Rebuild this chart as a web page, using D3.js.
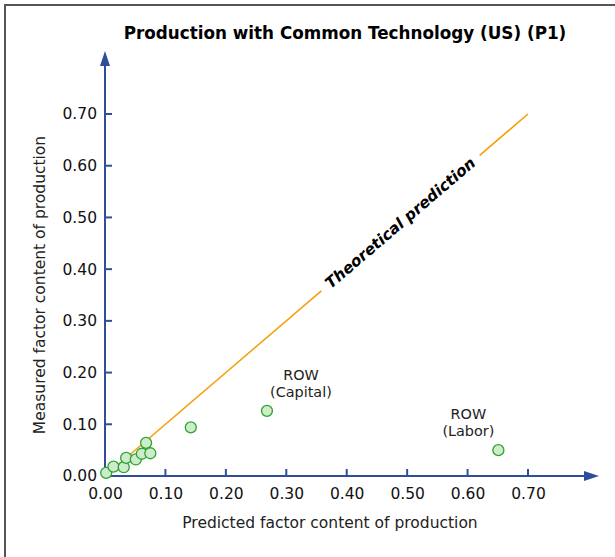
<!DOCTYPE html>
<html><head><meta charset="utf-8">
<script src="https://cdn.jsdelivr.net/npm/d3@7"></script>
<style>body{margin:0;background:#fff;} svg{display:block;}</style>
</head><body>
<script>
const title = "Production with Common Technology (US) (P1)";
const xLabel = "Predicted factor content of production";
const yLabel = "Measured factor content of production";
const tickValues = [0, 0.1, 0.2, 0.3, 0.4, 0.5, 0.6, 0.7];
const predicted = [0.002, 0.014, 0.031, 0.035, 0.051, 0.061, 0.068, 0.075, 0.142, 0.268, 0.651];
const measured  = [0.006, 0.018, 0.017, 0.035, 0.032, 0.043, 0.064, 0.044, 0.094, 0.126, 0.050];
const pointLabels = ["", "", "", "", "", "", "", "", "", "ROW\n(Capital)", "ROW\n(Labor)"];
const lineX = [0, 0.7];
const lineLabel = "Theoretical prediction";

const W = 615, H = 557;
const svg = d3.select("body").append("svg").attr("width", W).attr("height", H);
const font = "Verdana, 'DejaVu Sans', sans-serif";
const axisColor = "#2d4f9a";

svg.append("path").attr("d", `M5,${H} L5,5 L${W},5`).attr("fill","none").attr("stroke","#555").attr("stroke-width",2);

const x = d3.scaleLinear().domain([0, 0.7]).range([105, 528]);
const y = d3.scaleLinear().domain([0, 0.7]).range([476, 114]);

svg.append("text").attr("x", 345).attr("y", 39).attr("text-anchor","middle")
  .attr("font-family", font).attr("font-weight","bold").attr("font-size", 16.8).text(title);

// theoretical line with gap for label
const x1 = x(lineX[0]), y1 = y(lineX[0]), x2 = x(lineX[1]), y2 = y(lineX[1]);
const gapA = 0.358, gapB = 0.620;
const g = svg.append("g");
g.append("line").attr("x1", x1).attr("y1", y1).attr("x2", x(gapA)).attr("y2", y(gapA))
  .attr("stroke","#f5a00a").attr("stroke-width",1.6);
g.append("line").attr("x1", x(gapB)).attr("y1", y(gapB)).attr("x2", x2).attr("y2", y2)
  .attr("stroke","#f5a00a").attr("stroke-width",1.6);
const ang = Math.atan2(y2 - y1, x2 - x1) * 180 / Math.PI;
const mid = (gapA + gapB) / 2;
svg.append("text").attr("transform", `translate(${x(mid)},${y(mid)}) rotate(${ang})`)
  .attr("text-anchor","middle").attr("dy", 5)
  .attr("font-family", font).attr("font-weight","bold").attr("font-style","italic")
  .attr("font-size", 15.4).text(lineLabel);

// axes
const xAxis = d3.axisBottom(x).tickValues(tickValues).tickFormat(d3.format(".2f")).tickSize(0).tickPadding(12);
const xg = svg.append("g").attr("transform", `translate(0,${y(0)})`).call(xAxis);
xg.select(".domain").remove();
xg.selectAll("text").attr("font-family", font).attr("font-size", 15.5).attr("fill","#111");
const yAxis = d3.axisLeft(y).tickValues(tickValues).tickFormat(d3.format(".2f")).tickSize(0).tickPadding(8);
const yg = svg.append("g").attr("transform", `translate(${x(0)},0)`).call(yAxis);
yg.select(".domain").remove();
yg.selectAll("text").attr("font-family", font).attr("font-size", 15.5).attr("fill","#111");

// ticks inside
svg.selectAll(".xt").data(tickValues.slice(1)).enter().append("line")
  .attr("x1", d => x(d)).attr("x2", d => x(d)).attr("y1", y(0)).attr("y2", y(0) - 7)
  .attr("stroke", axisColor).attr("stroke-width", 2);
svg.selectAll(".yt").data(tickValues.slice(1)).enter().append("line")
  .attr("y1", d => y(d)).attr("y2", d => y(d)).attr("x1", x(0)).attr("x2", x(0) + 7)
  .attr("stroke", axisColor).attr("stroke-width", 2);

// axis lines with arrows
svg.append("line").attr("x1", x(0)).attr("y1", y(0)).attr("x2", 588).attr("y2", y(0))
  .attr("stroke", axisColor).attr("stroke-width", 2);
svg.append("path").attr("d", `M584,${y(0)-5} L599,${y(0)} L584,${y(0)+5} Z`).attr("fill", axisColor);
svg.append("line").attr("x1", x(0)).attr("y1", y(0)).attr("x2", x(0)).attr("y2", 62)
  .attr("stroke", axisColor).attr("stroke-width", 2);
svg.append("path").attr("d", `M${x(0)-5},66 L${x(0)},51 L${x(0)+5},66 Z`).attr("fill", axisColor);

// axis labels
svg.append("text").attr("x", 330).attr("y", 528).attr("text-anchor","middle")
  .attr("font-family", font).attr("font-size", 15.5).attr("fill","#222").text(xLabel);
svg.append("text").attr("transform", "translate(45,285) rotate(-90)").attr("text-anchor","middle")
  .attr("font-family", font).attr("font-size", 15.5).attr("fill","#222").text(yLabel);

// points
svg.selectAll(".pt").data(predicted.map((p, i) => [p, measured[i]])).enter().append("circle")
  .attr("cx", d => x(d[0])).attr("cy", d => y(d[1])).attr("r", 5.5)
  .attr("fill", "#cdeccb").attr("stroke", "#2ea32e").attr("stroke-width", 1.3);

// point labels
pointLabels.forEach((lab, i) => {
  if (!lab) return;
  const lines = lab.split("\n");
  const t = svg.append("text").attr("text-anchor","middle")
    .attr("font-family", font).attr("font-size", 14.4).attr("fill","#222");
  const cx = i === 9 ? x(predicted[i]) + 34 : x(predicted[i]) - 30;
  lines.forEach((ln, j) => {
    t.append("tspan").attr("x", cx)
      .attr("y", y(measured[i]) - 31 + j * 17).text(ln);
  });
});
</script>
</body></html>
